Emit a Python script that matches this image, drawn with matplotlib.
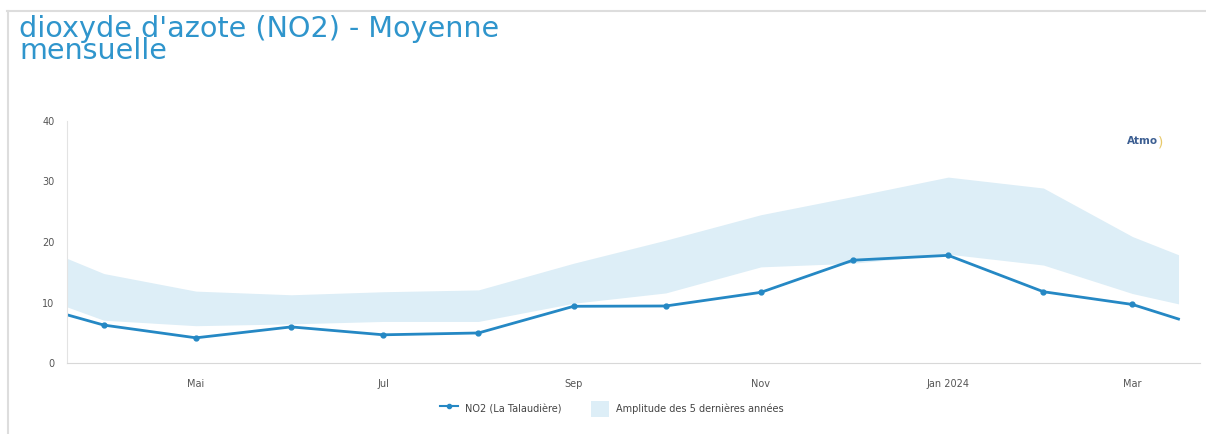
import datetime as dt

import matplotlib
matplotlib.use("Agg")
from matplotlib import pyplot as plt
from matplotlib.lines import Line2D
from matplotlib.patches import Patch


# Monthly NO2 data (first and last points are the partial-month ends)
dates = [dt.date(2023, 3, 20)] + [dt.date(2023, m, 1) for m in range(4, 13)] + \
        [dt.date(2024, 1, 1), dt.date(2024, 2, 1), dt.date(2024, 3, 1), dt.date(2024, 3, 16)]
no2 = [8.0, 6.3, 4.2, 6.0, 4.7, 5.0, 9.4, 9.45, 11.7, 17.0, 17.8, 11.8, 9.7, 7.3]
band_low = [9.3, 7.1, 6.2, 6.5, 6.9, 6.9, 9.9, 11.6, 15.9, 16.5, 18.0, 16.2, 11.5, 9.8]
band_high = [17.3, 14.8, 11.9, 11.3, 11.8, 12.1, 16.5, 20.3, 24.5, 27.5, 30.7, 28.9, 20.9, 17.9]

tick_dates = [dt.date(2023, 5, 1), dt.date(2023, 7, 1), dt.date(2023, 9, 1),
              dt.date(2023, 11, 1), dt.date(2024, 1, 1), dt.date(2024, 3, 1)]
tick_labels = ["Mai", "Jul", "Sep", "Nov", "Jan 2024", "Mar"]

line_color = "#2588c4"
band_color = "#ddeef7"
title_color = "#2f95cc"
font = "DejaVu Sans"

W, H = 1206, 434
fig = plt.figure(figsize=(W / 100, H / 100), dpi=100)
fig.patch.set_facecolor("white")

# frame lines of the card
fig.add_artist(Line2D([7 / W, 1], [1 - 10.5 / H, 1 - 10.5 / H], color="#dddddd", lw=1.5))
fig.add_artist(Line2D([7.5 / W, 7.5 / W], [0, 1 - 10.5 / H], color="#dddddd", lw=1.5))

# title on two lines, first line stretched to the reference width
t1 = fig.text(19 / W, 1 - 37 / H, "dioxyde d'azote (NO2) - Moyenne", color=title_color,
              fontsize=15, family=font, va="baseline", ha="left")
renderer = fig.canvas.get_renderer()
w = t1.get_window_extent(renderer).width
size = 15 * 479 / w
t1.set_fontsize(size)
fig.text(19 / W, 1 - 59 / H, "mensuelle", color=title_color,
         fontsize=size, family=font, va="baseline", ha="left")

ax = fig.add_axes([67 / W, (H - 363.3) / H, (1200 - 67) / W, (363.3 - 120.7) / H])
ax.fill_between(dates, band_low, band_high, color=band_color, lw=0)
ax.plot(dates, no2, color=line_color, lw=2, marker="o", markersize=3.5,
        markevery=list(range(1, len(dates) - 1)))

ax.set_ylim(0, 40)
ax.set_yticks([0, 10, 20, 30, 40])
ax.set_xlim(dt.date(2023, 3, 20), dt.date(2024, 3, 23))
ax.set_xticks(tick_dates)
ax.set_xticklabels(tick_labels)

for side in ["top", "right"]:
    ax.spines[side].set_visible(False)
ax.spines["left"].set_color("#e3e3e3")
ax.spines["bottom"].set_color("#d8d8d8")
ax.tick_params(length=0, labelsize=7, labelcolor="#555555", pad=9)
ax.tick_params(axis="x", pad=11)
for lbl in ax.get_xticklabels() + ax.get_yticklabels():
    lbl.set_family(font)

# Atmo logo
fig.text(1143 / W, 1 - 141 / H, "Atmo", color="#3d5f92", fontsize=7.5, fontweight="bold",
         family=font, ha="center", va="center")
fig.text(1161 / W, 1 - 142 / H, ")", color="#e8c96a", fontsize=10,
         family=font, ha="center", va="center")

handles = [Line2D([], [], color=line_color, lw=1.5, marker="o", markersize=3),
           Patch(facecolor=band_color, edgecolor="none")]
fig.legend(handles, ["NO2 (La Talaudière)", "Amplitude des 5 dernières années"],
           loc="center", bbox_to_anchor=(612 / W, 1 - 409 / H), ncol=2, frameon=False,
           prop={"family": font, "size": 7}, handlelength=1.8, handleheight=2.2,
           columnspacing=3, labelcolor="#444444")

fig.savefig("out.png", dpi=100)
